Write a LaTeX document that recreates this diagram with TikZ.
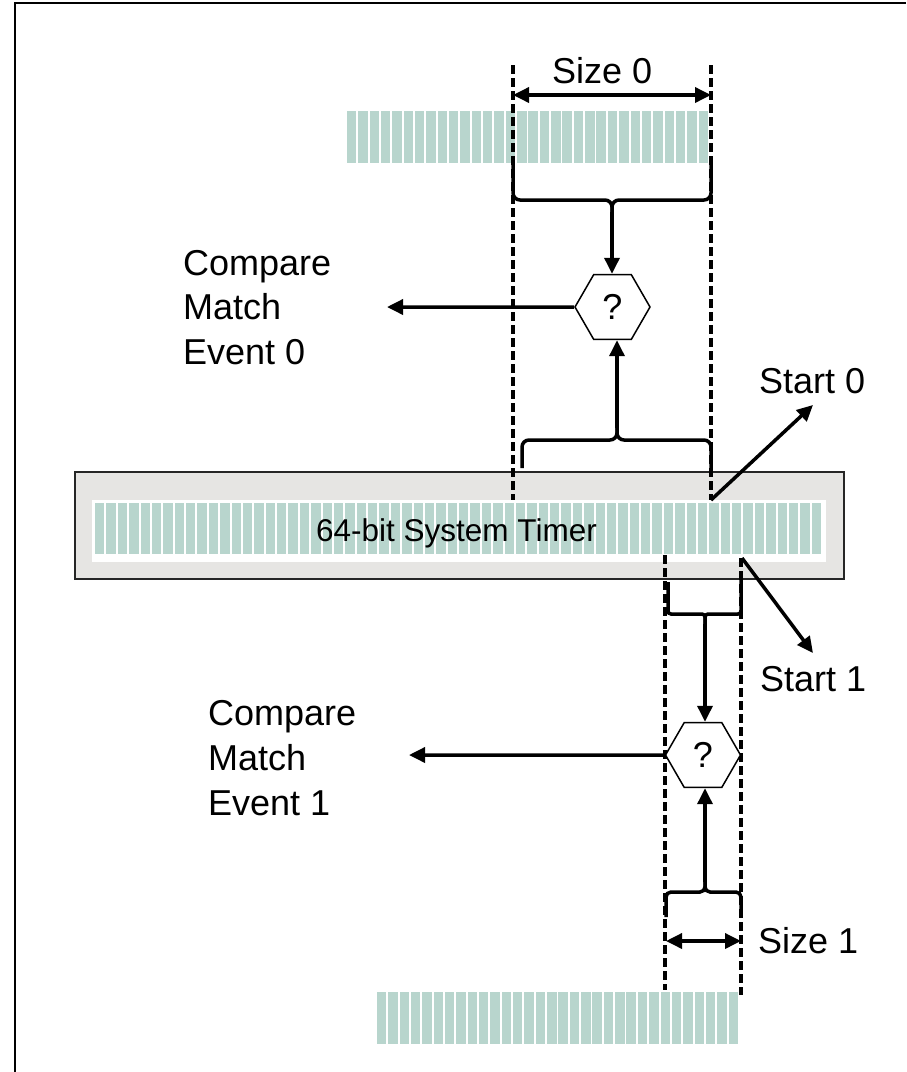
\documentclass[tikz,border=0pt]{standalone}
\usepackage{fontspec}
\setmainfont{Liberation Sans}
\usetikzlibrary{arrows.meta,shapes.geometric}
\definecolor{cellc}{RGB}{184,213,205}
\definecolor{timerbg}{RGB}{230,229,227}
\tikzset{
  cell/.style={fill=cellc},
  lbl/.style={font=\fontsize{36}{43}\selectfont, inner sep=0pt, anchor=base west},
  hexnode/.style={regular polygon, regular polygon sides=6, minimum size=75pt, inner sep=0pt, draw, line width=1.5pt, fill=white, font=\fontsize{36}{43}\selectfont},
  guide/.style={line width=3.5pt, dash pattern=on 9pt off 4pt},
  bracepath/.style={line width=3.5pt, rounded corners=7pt},
  arr/.style={line width=3.5pt, -{Triangle[length=16pt,width=15pt]}},
  dbl/.style={line width=3.5pt, {Triangle[length=16pt,width=15pt]}-{Triangle[length=16pt,width=15pt]}},
}
\begin{document}
\begin{tikzpicture}[x=1pt,y=-1pt]
\useasboundingbox (0,0) rectangle (906,1072);
% frame
\draw[line width=2pt] (15,1072) -- (15,3) -- (906,3);
% top register
\foreach \i in {0,...,31} \fill[cell] ({347+\i*11.34},111) rectangle ++(9.4,52);
% bottom register
\foreach \i in {0,...,31} \fill[cell] ({377+\i*11.34},992) rectangle ++(9.4,52);
% timer
\node[draw=black!85, line width=1.8pt, fill=timerbg, minimum width=769pt, minimum height=107pt, inner sep=0pt] (timer) at (459.5,525.5) {};
\fill[white] (92,500) rectangle (826,562);
\foreach \i in {0,...,63} \fill[cell] ({95+\i*11.375},503) rectangle ++(9.4,51);
\node[font=\fontsize{31.5}{38}\selectfont, inner sep=0pt, anchor=base] (ttext) at (456.5,541) {64-bit System Timer};
% dashed guides
\coordinate (g0a) at (513,65); \coordinate (g0b) at (513,500);
\coordinate (g1a) at (711,65); \coordinate (g1b) at (711,500);
\coordinate (g2a) at (665,555); \coordinate (g2b) at (665,990);
\coordinate (g3a) at (741,558); \coordinate (g3b) at (741,995);
\draw[guide] (g0a) -- (g0b);
\draw[guide] (g1a) -- (g1b);
\draw[guide] (g2a) -- (g2b);
\draw[guide] (g3a) -- (g3b);
% hexagons
\node[hexnode] (h0) at (612.5,307) {?};
\node[hexnode] (h1) at (703,755) {?};
% size arrows
\coordinate (s0a) at (513,95); \coordinate (s0b) at (711,95);
\draw[dbl] (s0a) -- (s0b);
\coordinate (s1a) at (666,941); \coordinate (s1b) at (741,941);
\draw[dbl] (s1a) -- (s1b);
% braces
\coordinate (b0c) at (612,212);
\draw[bracepath] (513,163) -- (513,200) -- (612,200) -- (b0c);
\draw[bracepath] (711,163) -- (711,200) -- (612,200) -- (b0c);
\draw[arr] (b0c) -- (b0c |- h0.north);
\coordinate (b0d) at (617,428);
\draw[bracepath] (522,468) -- (522,440) -- (617,440) -- (b0d);
\draw[bracepath] (711,468) -- (711,440) -- (617,440) -- (b0d);
\draw[arr] (b0d) -- (b0d |- h0.south);
\coordinate (b1c) at (705,624);
\draw[bracepath, rounded corners=3pt] (668,582) -- (668,614) -- (705,614) -- (b1c);
\draw[bracepath, rounded corners=3pt] (741,579) -- (741,614) -- (705,614) -- (b1c);
\draw[arr] (b1c) -- (b1c |- h1.north);
\coordinate (b1d) at (705,882);
\draw[bracepath, rounded corners=5pt] (666,917) -- (666,892) -- (705,892) -- (b1d);
\draw[bracepath, rounded corners=5pt] (741,917) -- (741,892) -- (705,892) -- (b1d);
\draw[arr] (b1d) -- (b1d |- h1.south);
% outputs
\coordinate (e0) at (387,307);
\coordinate (e1) at (409,755);
\draw[arr] (h0.west) -- (e0);
\draw[arr] (h1.west) -- (e1);
% start arrows
\coordinate (st0) at (711,500); \coordinate (st0e) at (813,405);
\coordinate (st1) at (742,558); \coordinate (st1e) at (813,653);
\draw[arr] (st0) -- (st0e);
\draw[arr] (st1) -- (st1e);
% labels
\node[lbl] (size0) at (552,83) {Size 0};
\node[lbl] (size1) at (758,953) {Size 1};
\node[lbl] (start0) at (759,393) {Start 0};
\node[lbl] (start1) at (760,691) {Start 1};
\node[lbl] (c0a) at (183,275) {Compare};
\node[lbl] (c0b) at (183,319.5) {Match};
\node[lbl] (c0c) at (183,364) {Event 0};
\node[lbl] (c1a) at (208,725) {Compare};
\node[lbl] (c1b) at (208,770) {Match};
\node[lbl] (c1c) at (208,815) {Event 1};
\end{tikzpicture}
\end{document}
